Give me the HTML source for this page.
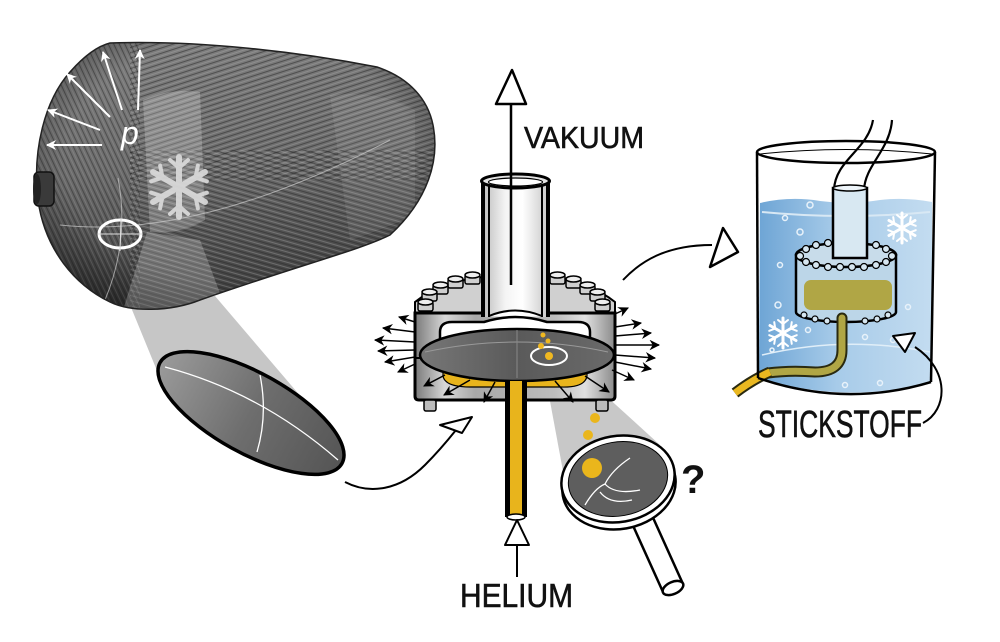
<!DOCTYPE html>
<html><head><meta charset="utf-8"><style>
html,body{margin:0;padding:0;background:#fff;}
svg{display:block;}
.hand{font-family:"Liberation Sans",sans-serif;fill:#111;stroke:#111;stroke-width:0.6;}
</style></head><body>
<svg width="1000" height="642" viewBox="0 0 1000 642" xmlns="http://www.w3.org/2000/svg">
<defs>
  <linearGradient id="tankG" x1="0.35" y1="0" x2="0.5" y2="1">
    <stop offset="0" stop-color="#7e7e7e"/>
    <stop offset="0.45" stop-color="#6c6c6c"/>
    <stop offset="0.8" stop-color="#4c4c4c"/>
    <stop offset="1" stop-color="#3a3a3a"/>
  </linearGradient>
  <radialGradient id="edgeG" cx="0.5" cy="0.45" r="0.6">
    <stop offset="0.7" stop-color="#000" stop-opacity="0"/>
    <stop offset="1" stop-color="#000" stop-opacity="0.45"/>
  </radialGradient>
  <pattern id="h1" width="5" height="5" patternUnits="userSpaceOnUse" patternTransform="rotate(-18)">
    <line x1="0" y1="0.5" x2="5" y2="0.5" stroke="#2a2a2a" stroke-width="0.9"/>
    <line x1="0" y1="3" x2="5" y2="3" stroke="#b0b0b0" stroke-width="0.6"/>
  </pattern>
  <pattern id="h2" width="5" height="5" patternUnits="userSpaceOnUse" patternTransform="rotate(16)">
    <line x1="0" y1="0.5" x2="5" y2="0.5" stroke="#2a2a2a" stroke-width="0.9"/>
    <line x1="0" y1="3" x2="5" y2="3" stroke="#b0b0b0" stroke-width="0.6"/>
  </pattern>
  <pattern id="h3" width="5" height="5" patternUnits="userSpaceOnUse" patternTransform="rotate(65)">
    <line x1="0" y1="0.5" x2="5" y2="0.5" stroke="#2a2a2a" stroke-width="0.9"/>
    <line x1="0" y1="3" x2="5" y2="3" stroke="#a0a0a0" stroke-width="0.6"/>
  </pattern>
  <clipPath id="tankClip">
    <path d="M110,43 C200,40 300,52 377,67 C410,78 428,100 433,125 C440,160 428,200 390,235 C360,250 300,265 200,300 C170,312 130,312 110,302 C75,285 45,250 38,200 C32,150 45,100 70,72 C85,55 98,46 110,43 Z"/>
  </clipPath>
  <linearGradient id="lensG" x1="0" y1="0" x2="1" y2="0">
    <stop offset="0" stop-color="#9a9a9a"/>
    <stop offset="0.5" stop-color="#6e6e6e"/>
    <stop offset="1" stop-color="#555"/>
  </linearGradient>
  <linearGradient id="flG" x1="0" y1="0" x2="1" y2="0">
    <stop offset="0" stop-color="#7a7a7a"/>
    <stop offset="0.15" stop-color="#d8d8d8"/>
    <stop offset="0.3" stop-color="#a8a8a8"/>
    <stop offset="0.7" stop-color="#bdbdbd"/>
    <stop offset="0.85" stop-color="#e0e0e0"/>
    <stop offset="1" stop-color="#8a8a8a"/>
  </linearGradient>
  <linearGradient id="tubeG" x1="0" y1="0" x2="1" y2="0">
    <stop offset="0" stop-color="#b8b8b8"/>
    <stop offset="0.35" stop-color="#f4f4f4"/>
    <stop offset="0.6" stop-color="#ffffff"/>
    <stop offset="1" stop-color="#c4c4c4"/>
  </linearGradient>
  <linearGradient id="diskG" x1="0" y1="0" x2="1" y2="0">
    <stop offset="0" stop-color="#777"/>
    <stop offset="0.5" stop-color="#5a5a5a"/>
    <stop offset="1" stop-color="#6a6a6a"/>
  </linearGradient>
  <linearGradient id="waterG" x1="0" y1="0" x2="1" y2="0">
    <stop offset="0" stop-color="#6ea5d5"/>
    <stop offset="0.45" stop-color="#a7cbe9"/>
    <stop offset="1" stop-color="#c3dcf0"/>
  </linearGradient>
  <marker id="ah" viewBox="0 0 10 10" refX="9" refY="5" markerWidth="7" markerHeight="7" orient="auto">
    <path d="M0,0 L10,5 L0,10 L3,5 z" fill="#000"/>
  </marker>
  <marker id="aw" viewBox="0 0 10 10" refX="9" refY="5" markerWidth="5" markerHeight="5" orient="auto">
    <path d="M0,0 L10,5 L0,10 L3,5 z" fill="#fff"/>
  </marker>
</defs>

<!-- beam tank -> lens -->
<polygon points="128,300 215,296 308,405 160,378" fill="#c6c6c6"/>

<!-- TANK -->
<path d="M110,43 C200,40 300,52 377,67 C410,78 428,100 433,125 C440,160 428,200 390,235 C360,250 300,265 200,300 C170,312 130,312 110,302 C75,285 45,250 38,200 C32,150 45,100 70,72 C85,55 98,46 110,43 Z" fill="url(#tankG)"/>
<g clip-path="url(#tankClip)">
  <rect x="130" y="30" width="320" height="150" fill="url(#h1)" opacity="0.6"/>
  <rect x="130" y="150" width="320" height="170" fill="url(#h2)" opacity="0.6"/>
  <rect x="30" y="30" width="110" height="290" fill="url(#h3)" opacity="0.55"/>
  <rect x="30" y="30" width="420" height="290" fill="url(#edgeG)"/>
  <path d="M143,100 Q170,88 200,92 L205,220 Q180,235 150,232 Z" fill="#fff" opacity="0.22"/>
  <path d="M147,232 L200,240 L230,320 L120,320 Z" fill="#fff" opacity="0.22"/>
  <path d="M330,95 Q380,90 415,110 L415,215 Q380,230 350,240 Z" fill="#fff" opacity="0.08"/>
  <path d="M60,225 Q200,240 390,140" fill="none" stroke="#ccc" stroke-width="1" opacity="0.7"/>
  <path d="M118,178 Q130,240 105,300" fill="none" stroke="#ccc" stroke-width="1" opacity="0.7"/>
</g>
<path d="M110,43 C200,40 300,52 377,67 C410,78 428,100 433,125 C440,160 428,200 390,235 C360,250 300,265 200,300 C170,312 130,312 110,302 C75,285 45,250 38,200 C32,150 45,100 70,72 C85,55 98,46 110,43 Z" fill="none" stroke="#222" stroke-width="1.5"/>
<!-- knob -->
<rect x="34" y="172" width="20" height="34" rx="5" fill="#3a3a3a" stroke="#111" stroke-width="1.5"/>
<ellipse cx="37" cy="189" rx="4" ry="15" fill="#222"/>
<!-- white ellipse marker -->
<ellipse cx="120" cy="234" rx="21" ry="14" fill="none" stroke="#fff" stroke-width="3"/>
<line x1="98" y1="234" x2="142" y2="234" stroke="#ddd" stroke-width="1"/>
<line x1="121" y1="219" x2="120" y2="251" stroke="#ddd" stroke-width="1"/>
<!-- pressure arrows -->
<g stroke="#fff" stroke-width="2" fill="none" marker-end="url(#aw)">
  <line x1="102" y1="145" x2="47" y2="145"/>
  <line x1="100" y1="130" x2="48" y2="110"/>
  <line x1="110" y1="117" x2="67" y2="74"/>
  <line x1="122" y1="110" x2="103" y2="52"/>
  <line x1="138" y1="110" x2="140" y2="50"/>
</g>
<text x="121" y="144" font-family="Liberation Sans,sans-serif" font-size="32" font-style="italic" fill="#fff">p</text>
<!-- snowflake -->
<g stroke="#dcdcdc" stroke-width="6" stroke-linecap="round" opacity="0.9" fill="none">
  <g transform="translate(179,187)">
    <g id="arm"><line x1="0" y1="0" x2="0" y2="-30"/><polyline points="-9,-27 0,-19 9,-27" stroke-width="4"/></g>
    <use href="#arm" transform="rotate(60)"/>
    <use href="#arm" transform="rotate(120)"/>
    <use href="#arm" transform="rotate(180)"/>
    <use href="#arm" transform="rotate(240)"/>
    <use href="#arm" transform="rotate(300)"/>
  </g>
</g>

<!-- LENS -->
<ellipse cx="251" cy="413" rx="104" ry="40" transform="rotate(29 251 413)" fill="url(#lensG)" stroke="#000" stroke-width="3.5"/>
<path d="M165,367 Q260,392 338,460" fill="none" stroke="#fff" stroke-width="1.3"/>
<path d="M260,375 Q268,415 257,452" fill="none" stroke="#fff" stroke-width="1.3"/>

<!-- arrow lens -> apparatus -->
<path d="M345,482 C370,495 400,490 425,465 C440,450 448,440 456,430" fill="none" stroke="#000" stroke-width="2"/>
<polygon points="440,425 472,417 462,433" fill="#fff" stroke="#000" stroke-width="2" stroke-linejoin="round"/>

<!-- beam flange -> magnifier -->
<polygon points="547,385 605,395 660,445 565,482" fill="#c8c8c8"/>

<!-- APPARATUS -->
<line x1="511" y1="103" x2="511" y2="285" stroke="#000" stroke-width="2.5"/>
<polygon points="512,70 496,104 526,104" fill="#fff" stroke="#000" stroke-width="2.5" stroke-linejoin="round"/>
<text class="hand" x="524" y="148" font-size="31" textLength="120" lengthAdjust="spacingAndGlyphs">VAKUUM</text>

<!-- flange top surfaces -->
<path d="M415,313 L415,302 Q440,282 483,277 L483,313 Z" fill="#d0d0d0" stroke="#000" stroke-width="2"/>
<path d="M548,277 Q590,282 615,302 L615,313 L548,313 Z" fill="#d0d0d0" stroke="#000" stroke-width="2"/>
<!-- top bolts -->
<g fill="#cfcfcf" stroke="#000" stroke-width="1.5">
  <g><rect x="465" y="275" width="15" height="9" rx="2"/><ellipse cx="472.5" cy="275" rx="7.5" ry="3" fill="#eee"/></g>
  <g><rect x="448" y="279" width="15" height="9" rx="2"/><ellipse cx="455.5" cy="279" rx="7.5" ry="3" fill="#eee"/></g>
  <g><rect x="433" y="285" width="15" height="9" rx="2"/><ellipse cx="440.5" cy="285" rx="7.5" ry="3" fill="#eee"/></g>
  <g><rect x="422" y="292" width="15" height="9" rx="2"/><ellipse cx="429.5" cy="292" rx="7.5" ry="3" fill="#eee"/></g>
  <g><rect x="418" y="302" width="15" height="9" rx="2"/><ellipse cx="425.5" cy="302" rx="7.5" ry="3" fill="#eee"/></g>
  <g><rect x="550" y="275" width="15" height="9" rx="2"/><ellipse cx="557.5" cy="275" rx="7.5" ry="3" fill="#eee"/></g>
  <g><rect x="566" y="279" width="15" height="9" rx="2"/><ellipse cx="573.5" cy="279" rx="7.5" ry="3" fill="#eee"/></g>
  <g><rect x="580" y="285" width="15" height="9" rx="2"/><ellipse cx="587.5" cy="285" rx="7.5" ry="3" fill="#eee"/></g>
  <g><rect x="590" y="292" width="15" height="9" rx="2"/><ellipse cx="597.5" cy="292" rx="7.5" ry="3" fill="#eee"/></g>
  <g><rect x="595" y="302" width="15" height="9" rx="2"/><ellipse cx="602.5" cy="302" rx="7.5" ry="3" fill="#eee"/></g>
</g>
<!-- flange body -->
<path d="M415,313 L615,313 L615,396 Q615,400 611,400 L419,400 Q415,400 415,396 Z" fill="url(#flG)" stroke="#000" stroke-width="3"/>
<line x1="415" y1="358" x2="615" y2="358" stroke="#000" stroke-width="2"/>
<!-- tube -->
<rect x="481" y="181" width="69" height="136" fill="url(#tubeG)"/>
<line x1="483" y1="181" x2="483" y2="317" stroke="#000" stroke-width="4"/>
<line x1="489" y1="184" x2="489" y2="317" stroke="#000" stroke-width="2"/>
<line x1="548" y1="181" x2="548" y2="317" stroke="#000" stroke-width="4"/>
<line x1="542" y1="184" x2="542" y2="317" stroke="#000" stroke-width="2"/>
<ellipse cx="515.5" cy="181" rx="34" ry="7" fill="#e4e4e4" stroke="#000" stroke-width="3"/>
<ellipse cx="515.5" cy="182" rx="27" ry="4" fill="#fff" stroke="#000" stroke-width="1.2"/>
<line x1="511" y1="175" x2="511" y2="285" stroke="#000" stroke-width="2.5"/>
<path d="M489,316 Q515,305 542,316" fill="#fff" stroke="#000" stroke-width="2"/>
<!-- cavity -->
<path d="M440,362 L440,332 Q440,322 452,322 L484,322 Q515,312 547,322 L578,322 Q590,322 590,332 L590,362 Z" fill="#fff" stroke="#000" stroke-width="2.5"/>
<!-- yellow under disk -->
<path d="M443,365 L587,365 L587,376 Q585,388 560,387 L470,387 Q445,387 443,376 Z" fill="#e8b41c" stroke="#000" stroke-width="1.2"/>
<!-- disk -->
<ellipse cx="517" cy="355" rx="97" ry="26" fill="url(#diskG)" stroke="#000" stroke-width="2.5"/>
<path d="M425,352 Q517,332 608,352" fill="none" stroke="#999" stroke-width="1"/>
<line x1="517" y1="330" x2="517" y2="378" stroke="#888" stroke-width="1"/>
<ellipse cx="549" cy="356" rx="18" ry="9" fill="none" stroke="#fff" stroke-width="2"/>
<g fill="#f0b820"><circle cx="549" cy="356" r="4"/><circle cx="541" cy="346" r="3"/><circle cx="548" cy="341" r="2.5"/><circle cx="543" cy="335" r="2.5"/></g>
<!-- helium tube -->
<rect x="505" y="381" width="22" height="136" fill="#e8b41c"/>
<rect x="505" y="381" width="5" height="136" fill="#000"/>
<rect x="522" y="381" width="5" height="136" fill="#000"/>
<ellipse cx="516" cy="517" rx="9" ry="3" fill="#fff" stroke="#000" stroke-width="1.5"/>
<!-- bottom bolts -->
<g fill="#bbb" stroke="#000" stroke-width="1.5">
  <rect x="424" y="400" width="12" height="11" rx="2"/>
  <rect x="596" y="400" width="12" height="11" rx="2"/>
</g>
<!-- radiating arrows -->
<g stroke="#000" stroke-width="1.5" marker-end="url(#ah)">
  <line x1="415" y1="322" x2="399" y2="317"/>
  <line x1="415" y1="332" x2="383" y2="328"/>
  <line x1="415" y1="342" x2="375" y2="340"/>
  <line x1="415" y1="350" x2="378" y2="351"/>
  <line x1="415" y1="357" x2="385" y2="362"/>
  <line x1="415" y1="364" x2="398" y2="372"/>
  <line x1="615" y1="314" x2="628" y2="308"/>
  <line x1="615" y1="327" x2="641" y2="323"/>
  <line x1="615" y1="336" x2="651" y2="333"/>
  <line x1="615" y1="345" x2="659" y2="345"/>
  <line x1="615" y1="355" x2="655" y2="358"/>
  <line x1="615" y1="362" x2="651" y2="369"/>
  <line x1="612" y1="370" x2="634" y2="380"/>
  <line x1="445" y1="375" x2="424" y2="386"/>
  <line x1="470" y1="380" x2="444" y2="395"/>
  <line x1="495" y1="382" x2="484" y2="402"/>
  <line x1="555" y1="381" x2="573" y2="402"/>
  <line x1="585" y1="376" x2="609" y2="392"/>
</g>

<!-- yellow particles -->
<g fill="#eab61c">
  <circle cx="595" cy="418" r="5"/>
  <circle cx="588" cy="435" r="5"/>
  <circle cx="607" cy="449" r="6.5"/>
</g>

<!-- MAGNIFIER -->
<polygon points="630,519 650,511 683,584 663,592" fill="#fff" stroke="#000" stroke-width="2.5" stroke-linejoin="round"/>
<ellipse cx="673" cy="588" rx="11" ry="6" transform="rotate(-24 673 588)" fill="#fff" stroke="#000" stroke-width="2.5"/>
<ellipse cx="619" cy="486" rx="57" ry="43" transform="rotate(-10 619 486)" fill="#fff" stroke="#000" stroke-width="2.5"/>
<ellipse cx="618" cy="479" rx="57" ry="43" transform="rotate(-10 618 479)" fill="#fff" stroke="#000" stroke-width="2.5"/>
<ellipse cx="618" cy="479" rx="50" ry="37" transform="rotate(-10 618 479)" fill="#5e5e5e" stroke="#000" stroke-width="1"/>
<g fill="none" stroke="#fff" stroke-width="1.3">
  <path d="M585,505 Q595,488 605,484 Q612,470 630,458"/>
  <path d="M605,484 Q615,495 640,490"/>
  <path d="M600,492 Q610,505 632,500"/>
</g>
<circle cx="592" cy="468" r="10" fill="#eab61c"/>
<text x="681" y="493" font-family="Liberation Sans,sans-serif" font-size="40" font-weight="bold" fill="#111">?</text>

<!-- HELIUM -->
<line x1="517" y1="540" x2="517" y2="577" stroke="#000" stroke-width="2"/>
<polygon points="517,520 505,545 529,545" fill="#fff" stroke="#000" stroke-width="2" stroke-linejoin="round"/>
<text class="hand" x="460" y="607" font-size="33" textLength="113" lengthAdjust="spacingAndGlyphs">HELIUM</text>

<!-- arrow -> beaker -->
<path d="M623,280 C640,262 665,245 712,245" fill="none" stroke="#000" stroke-width="2"/>
<polygon points="723,228 738,252 710,267" fill="#fff" stroke="#000" stroke-width="2.5" stroke-linejoin="round"/>

<!-- BEAKER -->
<path d="M760,203 Q790,196 820,201 Q850,205 880,200 Q905,197 932,202 L932,382 Q845,405 759,378 Z" fill="url(#waterG)"/>
<path d="M762,212 Q845,220 930,212" fill="none" stroke="#d8e8f4" stroke-width="2"/>
<path d="M762,355 Q845,335 930,352" fill="none" stroke="#e0eef8" stroke-width="1.5"/>
<g fill="none" stroke="#e8f2fa" stroke-width="1.5">
  <circle cx="810" cy="205" r="3"/><circle cx="785" cy="218" r="2.5"/><circle cx="800" cy="232" r="3"/>
  <circle cx="780" cy="265" r="2.5"/><circle cx="778" cy="305" r="3"/><circle cx="808" cy="330" r="2.5"/>
  <circle cx="865" cy="337" r="2.5"/><circle cx="908" cy="307" r="2.5"/><circle cx="893" cy="340" r="2.5"/>
  <circle cx="880" cy="383" r="2.5"/><circle cx="845" cy="385" r="2.5"/><circle cx="772" cy="350" r="2"/>
</g>
<path d="M873,120 C868,150 835,160 834,190 L864,190 C865,165 890,150 892,120 Z" fill="#fff"/>
<path d="M873,120 C868,150 835,160 834,190" fill="none" stroke="#000" stroke-width="2.2"/>
<path d="M892,120 C890,150 865,165 864,190" fill="none" stroke="#000" stroke-width="2.2"/>
<path d="M796,255 L796,312 A50,10 0 0 0 896,312 L896,255 Z" fill="#bcd6e8" stroke="#000" stroke-width="2.5"/>
<rect x="804" y="280" width="88" height="30" rx="7" fill="#b0a645"/>
<ellipse cx="846" cy="255" rx="50" ry="12" fill="#c8dcea" stroke="#000" stroke-width="2.5"/>
<g fill="#d6e6f0" stroke="#000" stroke-width="1.2">
  <circle cx="800" cy="256" r="3.5"/><circle cx="806" cy="249" r="3.5"/><circle cx="816" cy="245" r="3.5"/>
  <circle cx="828" cy="243" r="3.5"/><circle cx="864" cy="243" r="3.5"/><circle cx="876" cy="245" r="3.5"/>
  <circle cx="886" cy="249" r="3.5"/><circle cx="892" cy="256" r="3.5"/><circle cx="886" cy="262" r="3.5"/>
  <circle cx="876" cy="265" r="3.5"/><circle cx="864" cy="267" r="3.5"/><circle cx="852" cy="267" r="3.5"/>
  <circle cx="840" cy="267" r="3.5"/><circle cx="828" cy="267" r="3.5"/><circle cx="816" cy="265" r="3.5"/>
  <circle cx="806" cy="262" r="3.5"/>
  <circle cx="804" cy="315" r="3"/><circle cx="815" cy="319" r="3"/><circle cx="827" cy="321" r="3"/>
  <circle cx="865" cy="321" r="3"/><circle cx="877" cy="319" r="3"/><circle cx="888" cy="315" r="3"/>
</g>
<rect x="833" y="188" width="34" height="70" fill="#d8e8f2" stroke="#000" stroke-width="2.5"/>
<ellipse cx="850" cy="188" rx="17" ry="3" fill="#eef5fa" stroke="#000" stroke-width="1.5"/>
<path d="M842,318 L842,350 Q842,372 815,372 Q790,370 768,373" fill="none" stroke="#2a2a10" stroke-width="11" stroke-linecap="round"/>
<path d="M842,318 L842,350 Q842,372 815,372 Q790,370 768,373" fill="none" stroke="#b0a645" stroke-width="7" stroke-linecap="round"/>
<path d="M770,372 Q752,380 735,393" fill="none" stroke="#2a2a10" stroke-width="11"/>
<path d="M770,372 Q752,380 735,393" fill="none" stroke="#eab820" stroke-width="7"/>
<g stroke="#fff" stroke-width="3" stroke-linecap="round" fill="none">
  <g transform="translate(902,228)">
    <g id="arm2"><line x1="0" y1="0" x2="0" y2="-15"/><polyline points="-5,-13 0,-9 5,-13" stroke-width="2"/></g>
    <use href="#arm2" transform="rotate(60)"/><use href="#arm2" transform="rotate(120)"/>
    <use href="#arm2" transform="rotate(180)"/><use href="#arm2" transform="rotate(240)"/><use href="#arm2" transform="rotate(300)"/>
  </g>
  <g transform="translate(783,333)">
    <use href="#arm2"/><use href="#arm2" transform="rotate(60)"/><use href="#arm2" transform="rotate(120)"/>
    <use href="#arm2" transform="rotate(180)"/><use href="#arm2" transform="rotate(240)"/><use href="#arm2" transform="rotate(300)"/>
  </g>
</g>
<ellipse cx="846" cy="152" rx="89" ry="11" fill="none" stroke="#000" stroke-width="2.5"/>
<path d="M760,154 Q846,145 932,154" fill="none" stroke="#000" stroke-width="1"/>
<line x1="757" y1="152" x2="758" y2="378" stroke="#000" stroke-width="2.5"/>
<line x1="935" y1="152" x2="931" y2="382" stroke="#000" stroke-width="2.5"/>
<path d="M758,378 Q845,408 931,382" fill="none" stroke="#000" stroke-width="2.5"/>

<!-- STICKSTOFF -->
<text class="hand" x="758" y="437" font-size="38" textLength="164" lengthAdjust="spacingAndGlyphs">STICKSTOFF</text>
<path d="M923,423 C948,410 950,370 915,347" fill="none" stroke="#000" stroke-width="2"/>
<polygon points="893,336 915,333 905,352" fill="#fff" stroke="#000" stroke-width="2" stroke-linejoin="round"/>
</svg>
</body></html>
